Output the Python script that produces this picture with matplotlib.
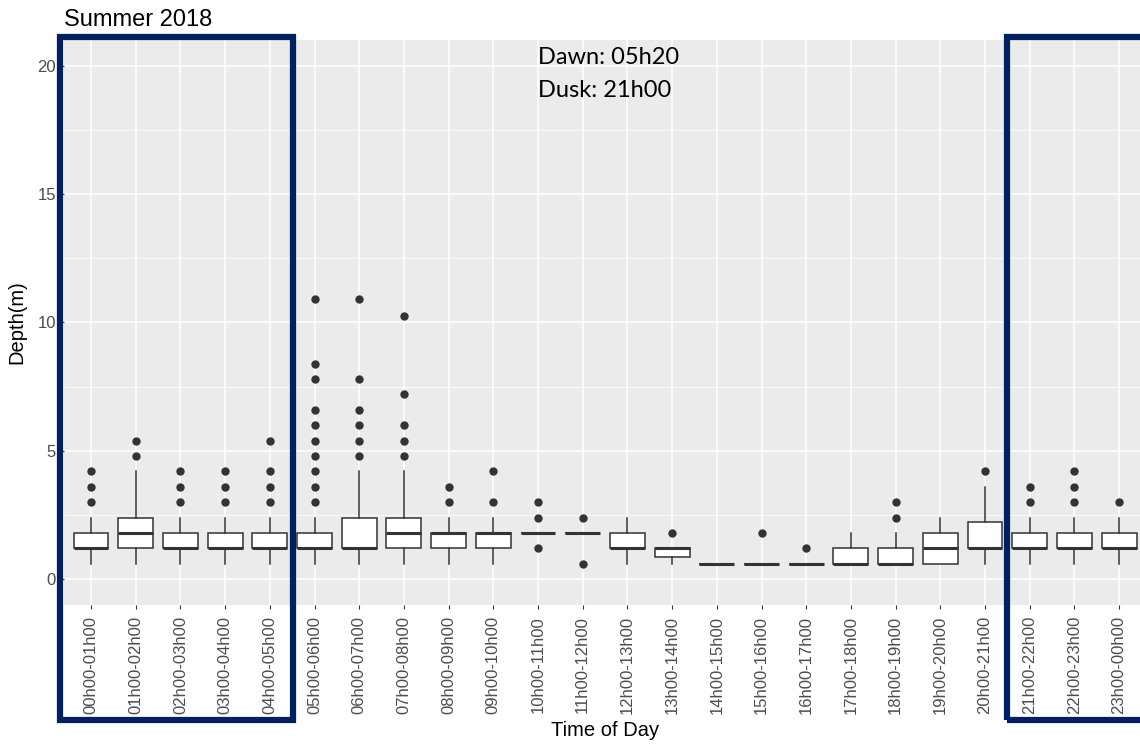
import matplotlib.pyplot as plt
from matplotlib.patches import Rectangle
from matplotlib.transforms import blended_transform_factory

plt.rcParams['font.family'] = ['Liberation Sans', 'DejaVu Sans']

# hourly depth summaries (m): whisker low, Q1, median, Q3, whisker high, outliers
hours = ['00h00-01h00', '01h00-02h00', '02h00-03h00', '03h00-04h00', '04h00-05h00',
         '05h00-06h00', '06h00-07h00', '07h00-08h00', '08h00-09h00', '09h00-10h00',
         '10h00-11h00', '11h00-12h00', '12h00-13h00', '13h00-14h00', '14h00-15h00',
         '15h00-16h00', '16h00-17h00', '17h00-18h00', '18h00-19h00', '19h00-20h00',
         '20h00-21h00', '21h00-22h00', '22h00-23h00', '23h00-00h00']
whis_low = [0.6, 0.6, 0.6, 0.6, 0.6, 0.6, 0.6, 0.6, 0.6, 0.6, 1.8, 1.8,
            0.6, 0.6, 0.6, 0.6, 0.6, 0.6, 0.6, 0.6, 0.6, 0.6, 0.6, 0.6]
q1 = [1.2, 1.2, 1.2, 1.2, 1.2, 1.2, 1.2, 1.2, 1.2, 1.2, 1.8, 1.8,
      1.2, 0.85, 0.6, 0.6, 0.6, 0.6, 0.6, 0.6, 1.2, 1.2, 1.2, 1.2]
median = [1.2, 1.8, 1.2, 1.2, 1.2, 1.2, 1.2, 1.8, 1.8, 1.8, 1.8, 1.8,
          1.2, 1.2, 0.6, 0.6, 0.6, 0.6, 0.6, 1.2, 1.2, 1.2, 1.2, 1.2]
q3 = [1.8, 2.4, 1.8, 1.8, 1.8, 1.8, 2.4, 2.4, 1.8, 1.8, 1.8, 1.8,
      1.8, 1.2, 0.6, 0.6, 0.6, 1.2, 1.2, 1.8, 2.25, 1.8, 1.8, 1.8]
whis_high = [2.4, 4.2, 2.4, 2.4, 2.4, 2.4, 4.2, 4.2, 2.4, 2.4, 1.8, 1.8,
             2.4, 1.2, 0.6, 0.6, 0.6, 1.8, 1.8, 2.4, 3.6, 2.4, 2.4, 2.4]
outliers = [
    [3.0, 3.6, 4.2],
    [4.8, 5.4],
    [3.0, 3.6, 4.2],
    [3.0, 3.6, 4.2],
    [3.0, 3.6, 4.2, 5.4],
    [3.0, 3.6, 4.2, 4.8, 5.4, 6.0, 6.6, 7.8, 8.4, 10.9],
    [4.8, 5.4, 6.0, 6.6, 7.8, 10.9],
    [4.8, 5.4, 6.0, 7.2, 10.25],
    [3.0, 3.6],
    [3.0, 4.2],
    [1.2, 2.4, 3.0],
    [0.6, 2.4],
    [],
    [1.8],
    [],
    [1.8],
    [1.2],
    [],
    [2.4, 3.0],
    [],
    [4.2],
    [3.0, 3.6],
    [3.0, 3.6, 4.2],
    [3.0],
]
# night periods outlined in blue (left/right edge on the hour axis)
night_blocks = [(-0.69, 4.52), (20.49, 24.2)]
dawn_text = 'Dawn: 05h20'
dusk_text = 'Dusk: 21h00'

stats = []
for i in range(len(hours)):
    stats.append({'whislo': whis_low[i], 'q1': q1[i], 'med': median[i],
                  'q3': q3[i], 'whishi': whis_high[i], 'fliers': outliers[i]})

fig = plt.figure(figsize=(11.4, 7.47), dpi=100)
ax = fig.add_axes([0.0563, 0.1901, 0.9489, 0.7564])
ax.set_facecolor('#EBEBEB')

ink = '#333333'
ax.bxp(stats, positions=range(len(hours)), widths=0.78, patch_artist=True,
       showcaps=False,
       boxprops=dict(facecolor='white', edgecolor=ink, linewidth=1.1),
       whiskerprops=dict(color=ink, linewidth=1.1),
       medianprops=dict(color=ink, linewidth=2.2, solid_capstyle='butt'),
       flierprops=dict(marker='o', markerfacecolor=ink, markeredgecolor=ink,
                       markersize=5))

ax.set_xlim(-0.6, len(hours) - 0.4)
ax.set_ylim(-1, 21)
ax.set_xticks(range(len(hours)))
ax.set_xticklabels(hours, rotation=90, va='top', ha='center')
ax.set_yticks([0, 5, 10, 15, 20])
ax.set_yticks([2.5, 7.5, 12.5, 17.5], minor=True)
ax.set_axisbelow(True)
ax.grid(which='major', color='white', linewidth=1.1)
ax.grid(which='minor', axis='y', color='white', linewidth=0.55)
ax.tick_params(axis='both', which='major', length=3, width=0.8, color=ink,
               labelsize=12, labelcolor='#4D4D4D', pad=3)
ax.tick_params(axis='x', which='major', pad=5)
ax.tick_params(axis='y', which='minor', length=0)
for s in ax.spines.values():
    s.set_visible(False)

ax.set_xlabel('Time of Day', fontsize=14.5, labelpad=5)
ax.set_ylabel('Depth(m)', fontsize=14.5, labelpad=8)
ax.set_title('Summer 2018', loc='left', fontsize=17, pad=10)

ax.text(10, 20.05, dawn_text, fontsize=17, family='Lato', va='baseline', ha='left')
ax.text(10, 18.77, dusk_text, fontsize=17, family='Lato', va='baseline', ha='left')

# blue outlines around the night hours
trans = blended_transform_factory(ax.transData, fig.transFigure)
for x0, x1 in night_blocks:
    r = Rectangle((x0, 0.0355), x1 - x0, 0.9156, transform=trans,
                  fill=False, edgecolor='#002060', linewidth=4.5,
                  joinstyle='miter', clip_on=False)
    fig.add_artist(r)

fig.savefig('out.png', dpi=100)
